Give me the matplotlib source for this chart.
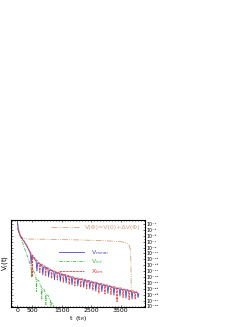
import matplotlib
matplotlib.use("Agg")
import matplotlib.pyplot as plt
import numpy as np
from matplotlib.lines import Line2D

# ---- data (t in t_R, log10 of V) ----
blue_t = [0, 30, 100, 214, 326, 420, 440, 463, 486, 553, 635, 660, 685, 760, 835, 860, 885, 960,
          1033, 1058, 1083, 1160, 1231, 1256, 1281, 1355, 1430, 1455, 1480, 1555, 1628, 1653, 1678,
          1755, 1827, 1852, 1877, 1950, 2025, 2050, 2075, 2150, 2225, 2250, 2275, 2350, 2430, 2455,
          2480, 2560, 2635, 2660, 2685, 2765, 2840, 2865, 2890, 2970, 3045, 3070, 3095, 3175, 3250,
          3275, 3300, 3380, 3455, 3480, 3505, 3585, 3660, 3685, 3710, 3790, 3865, 3890, 3915, 3995,
          4070, 4095, 4120]
blue_v = [-0.5, -3.0, -5.3, -6.8, -8.7, -10.6, -11.2, -14.5, -11.8, -12.6, -13.7, -17.0, -14.2, -14.6,
          -15.2, -18.3, -15.6, -15.8, -16.2, -19.0, -16.6, -16.8, -17.2, -20.0, -17.5, -17.6, -17.9,
          -20.5, -18.1, -18.2, -18.5, -21.0, -18.7, -18.9, -19.1, -21.7, -19.3, -19.4, -19.6, -22.0,
          -19.8, -19.8, -20.0, -22.5, -20.2, -20.3, -20.5, -23.0, -20.7, -20.9, -21.0, -23.8, -21.2,
          -21.4, -21.5, -24.0, -21.7, -21.9, -22.0, -24.6, -22.2, -22.4, -22.5, -25.2, -22.7, -22.9,
          -23.0, -25.5, -23.1, -23.3, -23.4, -26.2, -23.6, -23.8, -23.9, -26.5, -24.1, -24.2, -24.4,
          -26.0, -24.6]

red_t = [0, 30, 100, 214, 326, 420, 485, 497, 509, 600, 735, 760, 785, 860, 935, 960, 985, 1058,
         1135, 1160, 1185, 1256, 1330, 1355, 1380, 1455, 1530, 1555, 1580, 1653, 1730, 1755, 1780,
         1852, 1925, 1950, 1975, 2050, 2125, 2150, 2175, 2250, 2325, 2350, 2375, 2455, 2535, 2560,
         2585, 2660, 2740, 2765, 2790, 2865, 2945, 2970, 2995, 3070, 3150, 3175, 3200, 3275, 3355,
         3380, 3405, 3480, 3560, 3585, 3610, 3685, 3765, 3790, 3815, 3890, 3970, 3995, 4020, 4100]
red_v = [-2.4, -3.4, -5.1, -6.6, -8.4, -10.3, -11.2, -19.0, -11.6, -12.8, -14.2, -17.5, -14.5, -14.9,
         -15.4, -18.5, -15.7, -16.0, -16.4, -19.5, -16.7, -17.0, -17.2, -20.0, -17.4, -17.6, -17.9,
         -20.8, -18.1, -18.3, -18.5, -21.5, -18.7, -18.9, -19.1, -22.0, -19.3, -19.4, -19.5, -22.5,
         -19.6, -19.7, -20.0, -23.0, -20.1, -20.3, -20.5, -23.5, -20.7, -20.8, -21.0, -24.5, -21.2,
         -21.3, -21.5, -24.8, -21.7, -21.8, -22.0, -25.0, -22.2, -22.3, -22.5, -27.4, -22.7, -22.7,
         -22.9, -26.0, -23.1, -23.2, -23.4, -26.8, -23.6, -23.7, -23.8, -26.5, -24.0, -24.2]

green_t = [0, 50, 100, 214, 326, 440, 460, 475, 490, 530, 600, 630, 645, 660, 720, 790, 810, 825,
           840, 900, 950, 965, 980, 1050, 1120, 1135, 1150, 1200, 1260]
green_v = [-0.5, -3.5, -5.0, -8.5, -11.7, -15.0, -15.8, -19.0, -16.3, -16.6, -18.2, -19.5, -24.0,
           -20.0, -20.2, -21.8, -22.5, -26.5, -22.9, -23.2, -24.5, -28.5, -25.0, -25.4, -27.0, -30.0,
           -27.6, -28.0, -30.0]

brown_t = [0, 30, 100, 200, 300, 1000, 2000, 3000, 3500, 3700, 3790, 3840, 3855, 3862]
brown_v = [-0.5, -3.0, -5.0, -5.8, -6.1, -6.2, -6.4, -6.7, -7.0, -7.4, -8.2, -10.0, -15.0, -24.0]

xticks = [0, 500, 1500, 2500, 3500]
ytick_exps = list(range(-1, -30, -2))

labels = ["V(\u03a6)=V(0)+\u0394V(\u03a6)", "V$_{mean}$", "V$_{int}$", "X$_{lim}$"]
c_brown, c_blue, c_green, c_red = "#d4a07e", "#4a4ac4", "#44c044", "#f03c3c"

SUP = str.maketrans("-0123456789", "\u207b\u2070\u00b9\u00b2\u00b3\u2074\u2075\u2076\u2077\u2078\u2079")

fig = plt.figure(figsize=(2.53, 3.27), dpi=100)
ax = fig.add_axes([11/253, 1 - 306.7/327, (145-11)/253, (306.7-220)/327])

lw = 0.6
ax.plot(green_t, 10.0**np.array(green_v), color=c_green, lw=lw, dashes=(4, 1.5, 1, 1.5))
ax.plot(brown_t, 10.0**np.array(brown_v), color=c_brown, lw=lw, dashes=(7, 1.5, 1, 1.5, 1, 1.5))
ax.plot(blue_t, 10.0**np.array(blue_v), color=c_blue, lw=lw)
ax.plot(red_t, 10.0**np.array(red_v), color=c_red, lw=lw, dashes=(3, 1))

ax.set_yscale("log")
ax.set_xlim(-220, 4330)
ax.set_ylim(10**-29.1, 10**0.35)

ax.set_xticks(xticks)
ax.set_xticklabels([str(x) for x in xticks], fontsize=4.5)
ax.xaxis.set_minor_locator(matplotlib.ticker.MultipleLocator(100))
ax.set_yticks([10.0**e for e in ytick_exps])
ax.set_yticklabels(["10" + str(e).translate(SUP) for e in ytick_exps], fontsize=3.4)
ax.yaxis.set_minor_locator(matplotlib.ticker.LogLocator(base=10, subs=(1.0,), numticks=40))
ax.yaxis.set_minor_formatter(matplotlib.ticker.NullFormatter())
ax.tick_params(axis="both", which="both", direction="in", top=True, bottom=True,
               left=True, right=True, labelleft=False, labelright=True, width=0.4, pad=1)
ax.tick_params(which="major", length=1.5)
ax.tick_params(which="minor", length=1.0)
for s in ax.spines.values():
    s.set_linewidth(0.8)

ax.set_xlabel("t  (t$_R$)", fontsize=4.5, labelpad=1)
ax.set_ylabel("V$_i$(t)", fontsize=5, labelpad=1)

h_brown = Line2D([], [], color=c_brown, lw=lw, dashes=(7, 1.5, 1, 1.5, 1, 1.5))
leg1 = ax.legend([h_brown], [labels[0]], loc="upper right", fontsize=4.5, frameon=False,
                 handlelength=4.5, labelcolor="linecolor", borderaxespad=0.3, handletextpad=1.0)
ax.add_artist(leg1)
h_blue = Line2D([], [], color=c_blue, lw=lw)
h_green = Line2D([], [], color=c_green, lw=lw, dashes=(4, 1.5, 1, 1.5))
h_red = Line2D([], [], color=c_red, lw=lw, dashes=(3, 1))
ax.legend([h_blue, h_green, h_red], labels[1:], loc="upper left", bbox_to_anchor=(0.33, 0.72),
          fontsize=4.5, frameon=False, handlelength=4.0, labelcolor="linecolor",
          labelspacing=0.1, handletextpad=1.2, borderpad=0.1)

fig.savefig("out.png", dpi=100)
